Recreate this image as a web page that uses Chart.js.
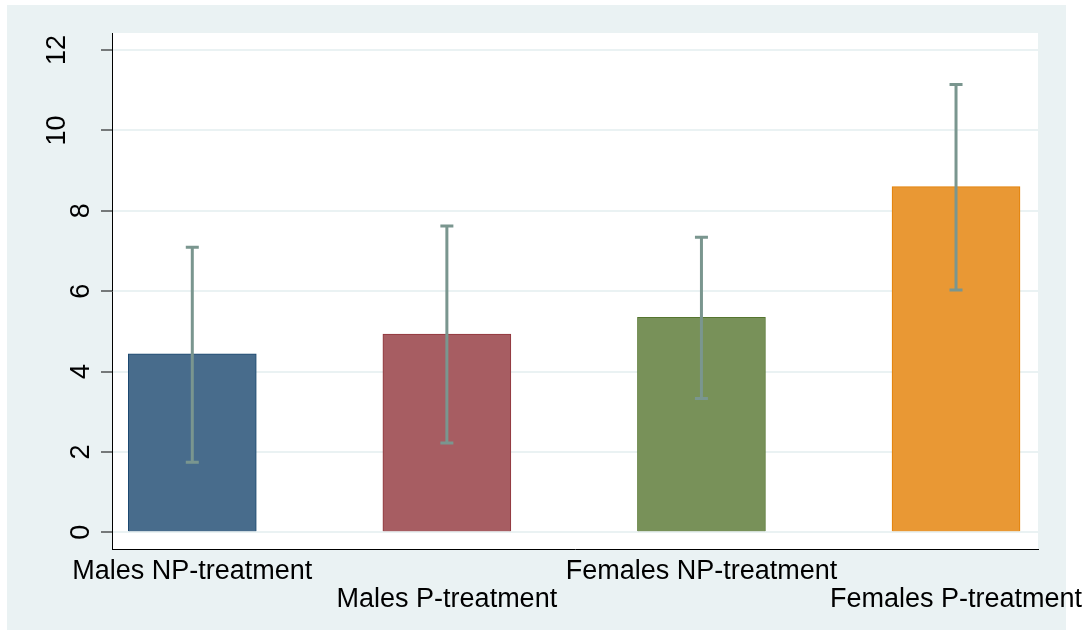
<!DOCTYPE html>
<html><head><meta charset="utf-8">
<script src="https://cdn.jsdelivr.net/npm/chart.js@4"></script>
<style>
html,body{margin:0;padding:0;background:#fff;}
#wrap{position:relative;width:1091px;height:630px;overflow:hidden;}
#bg{position:absolute;left:7px;top:5px;width:1059px;height:625px;background:#EAF2F3;}
canvas{position:absolute;left:0;top:0;}
</style></head><body>
<div id="wrap"><div id="bg"></div><canvas id="c" width="1091" height="630"></canvas></div>
<script>
const categories = ['Males NP-treatment', 'Males P-treatment', 'Females NP-treatment', 'Females P-treatment'];
const means = [4.44, 4.93, 5.35, 8.60];
const ciLow = [1.74, 2.22, 3.33, 6.03];
const ciHigh = [7.09, 7.62, 7.34, 11.14];
const yTicks = [0, 2, 4, 6, 8, 10, 12];

const fillColors = ['#486C8C', '#A75D62', '#789159', '#E99834'];
const borderColors = ['#1A476F', '#90353B', '#55752F', '#E37E00'];
const errColor = '#7A968F';
const fontFamily = '"Liberation Sans", Arial, Helvetica, sans-serif';

const plotBg = {
  id: 'plotBg',
  beforeDraw(chart) {
    const {ctx, chartArea: a} = chart;
    ctx.save();
    ctx.fillStyle = '#ffffff';
    ctx.fillRect(a.left, a.top, a.right - a.left, a.bottom - a.top);
    ctx.restore();
  }
};

const errorBars = {
  id: 'errorBars',
  afterDatasetsDraw(chart) {
    const {ctx, scales: {x, y}} = chart;
    ctx.save();
    ctx.strokeStyle = errColor;
    ctx.lineWidth = 3;
    ctx.lineCap = 'butt';
    categories.forEach((c, i) => {
      const px = x.getPixelForValue(i);
      const y1 = y.getPixelForValue(ciLow[i]);
      const y2 = y.getPixelForValue(ciHigh[i]);
      ctx.beginPath();
      ctx.moveTo(px, y1); ctx.lineTo(px, y2);
      ctx.moveTo(px - 6.5, y1); ctx.lineTo(px + 6.5, y1);
      ctx.moveTo(px - 6.5, y2); ctx.lineTo(px + 6.5, y2);
      ctx.stroke();
    });
    ctx.restore();
  }
};

new Chart(document.getElementById('c'), {
  type: 'bar',
  data: {
    datasets: [{
      data: categories.map((c, i) => ({x: i, y: means[i]})),
      backgroundColor: fillColors,
      borderColor: borderColors,
      borderWidth: 1,
      barThickness: 128
    }]
  },
  options: {
    responsive: false,
    animation: false,
    devicePixelRatio: 1,
    layout: {padding: {top: 33, right: 53, left: 0, bottom: 0}},
    plugins: {legend: {display: false}, tooltip: {enabled: false}},
    scales: {
      x: {
        type: 'linear', min: -0.3154, max: 3.322, offset: false,
        grid: {display: false},
        border: {display: true, color: '#000', width: 1},
        afterBuildTicks: s => { s.ticks = categories.map((c, i) => ({value: i})); },
        afterFit: s => { s.height = 81; s.paddingLeft = 0; s.paddingRight = 0; },
        ticks: {
          autoSkip: false, maxRotation: 0, minRotation: 0, padding: 0, color: '#000',
          font: {family: fontFamily, size: 27, lineHeight: 1.06},
          callback: (v, i) => (i % 2 ? ['', categories[v]] : categories[v])
        }
      },
      y: {
        min: -0.4155, max: 12.423,
        afterBuildTicks: s => { s.ticks = yTicks.map(v => ({value: v})); },
        afterFit: s => { s.width = 112; s.paddingTop = 0; s.paddingBottom = 0; },
        grid: {color: '#EAF2F3', lineWidth: 2, tickColor: '#000', tickLength: 11, tickWidth: 1},
        border: {display: true, color: '#000', width: 1},
        ticks: {
          minRotation: 90, maxRotation: 90, crossAlign: 'center', padding: 4, color: '#000',
          font: {family: fontFamily, size: 27, lineHeight: 1.78},
          callback: v => (String(v).length > 1 ? [String(v), ''] : String(v))
        }
      }
    }
  },
  plugins: [plotBg, errorBars]
});
</script>
</body></html>
